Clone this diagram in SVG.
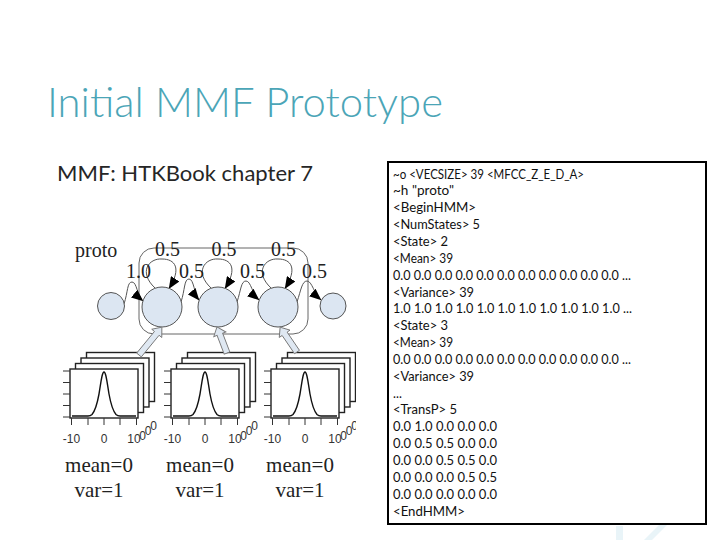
<svg xmlns="http://www.w3.org/2000/svg" width="720" height="540" viewBox="0 0 720 540">
<style>
.title{font-family:"Lato","Open Sans","Liberation Sans",sans-serif;font-weight:300;font-size:42px;fill:#4ba5b7}
.sub{font-family:"Lato","Open Sans","Liberation Sans",sans-serif;font-size:22px;fill:#262626}
.box{fill:#fff;stroke:#000;stroke-width:2}
.code{font-family:"Lato","Liberation Sans",sans-serif;font-size:12.5px;fill:#111}
.st{fill:#dce6f2;stroke:#555;stroke-width:1}
.tr{fill:none;stroke:#555;stroke-width:1;marker-end:url(#ah)}
.fr{fill:none;stroke:#666;stroke-width:1}
.ser{font-family:"Liberation Serif","Times New Roman",serif;font-size:20px;fill:#222}
.lab{font-family:"Liberation Serif","Times New Roman",serif;font-size:21px;fill:#222;text-anchor:middle}
.pl{fill:#fff;stroke:#222;stroke-width:1.4}
.tk{stroke:#333;stroke-width:1}
.g{fill:none;stroke:#111;stroke-width:1.4;stroke-linejoin:round}
.ax{font-family:"Liberation Sans",Arial,sans-serif;font-size:12px;fill:#333;text-anchor:middle}
.ha{fill:#dfe8f2;stroke:#777;stroke-width:0.9}
</style>
<defs>
<marker id="ah" markerUnits="userSpaceOnUse" markerWidth="12" markerHeight="10" refX="11.5" refY="5" orient="auto">
<path d="M0,0 L12,5 L0,10 z" fill="#000"/>
</marker>
<clipPath id="figclip"><rect x="55" y="225" width="301" height="300"/></clipPath>
<g id="stack">
<rect class="pl" x="16.5" y="-16.5" width="68" height="49"/>
<rect class="pl" x="11" y="-11" width="68" height="49"/>
<rect class="pl" x="5.5" y="-5.5" width="68" height="49"/>
<rect class="pl" x="0" y="0" width="68" height="49"/>
<path class="tk" d="M-7,2H0M-7,13.5H0M-7,25H0M-7,36.5H0M-7,48H0M1.5,49V56M18,49V56M34,49V56M50,49V56M66.5,49V56"/>
<path class="g" d="M2,47 L18,47 C20,47 21,46.5 22,45.5 C25,42 27,36 29,25 C31,13 32,3 34,3 C36,3 37,13 39,25 C41,36 43,42 46,45.5 C47,46.5 48,47 50,47 L66,47"/>
<text class="ax" x="1.5" y="74">-10</text>
<text class="ax" x="34" y="74">0</text>
<text class="ax" x="64" y="74">10</text>
<text class="ax" x="72.5" y="71">0</text>
<text class="ax" x="78" y="66">0</text>
<text class="ax" x="83.5" y="61">0</text>
</g>
</defs>
<rect width="720" height="540" fill="#fff"/>
<g id="watermark" fill="#e9f4f8">
<rect x="616" y="526" width="7" height="14"/>
<polygon points="660,524 668,524 652,540 644,540"/>
</g>
<text class="title" x="47" y="117" textLength="396" lengthAdjust="spacingAndGlyphs">Initial MMF Prototype</text>
<text class="sub" x="57" y="181" textLength="256" lengthAdjust="spacingAndGlyphs">MMF: HTKBook chapter 7</text>
<g id="code-box">
<rect class="box" x="388" y="162" width="318" height="362"/>
<g class="code">
<text x="393" y="178.5" textLength="191" lengthAdjust="spacingAndGlyphs">~o &lt;VECSIZE&gt; 39 &lt;MFCC_Z_E_D_A&gt;</text>
<text x="393" y="195.4" textLength="61" lengthAdjust="spacingAndGlyphs">~h "proto"</text>
<text x="393" y="212.2" textLength="83" lengthAdjust="spacingAndGlyphs">&lt;BeginHMM&gt;</text>
<text x="393" y="229.1" textLength="87" lengthAdjust="spacingAndGlyphs">&lt;NumStates&gt; 5</text>
<text x="393" y="245.9" textLength="55" lengthAdjust="spacingAndGlyphs">&lt;State&gt; 2</text>
<text x="393" y="262.8" textLength="60" lengthAdjust="spacingAndGlyphs">&lt;Mean&gt; 39</text>
<text x="393" y="279.6" textLength="238" lengthAdjust="spacingAndGlyphs">0.0 0.0 0.0 0.0 0.0 0.0 0.0 0.0 0.0 0.0 0.0 ...</text>
<text x="393" y="296.5" textLength="81" lengthAdjust="spacingAndGlyphs">&lt;Variance&gt; 39</text>
<text x="393" y="313.3" textLength="239" lengthAdjust="spacingAndGlyphs">1.0 1.0 1.0 1.0 1.0 1.0 1.0 1.0 1.0 1.0 1.0 ...</text>
<text x="393" y="330.2" textLength="55" lengthAdjust="spacingAndGlyphs">&lt;State&gt; 3</text>
<text x="393" y="347" textLength="60" lengthAdjust="spacingAndGlyphs">&lt;Mean&gt; 39</text>
<text x="393" y="363.9" textLength="238" lengthAdjust="spacingAndGlyphs">0.0 0.0 0.0 0.0 0.0 0.0 0.0 0.0 0.0 0.0 0.0 ...</text>
<text x="393" y="380.7" textLength="81" lengthAdjust="spacingAndGlyphs">&lt;Variance&gt; 39</text>
<text x="393" y="397.6">...</text>
<text x="393" y="414.4" textLength="64" lengthAdjust="spacingAndGlyphs">&lt;TransP&gt; 5</text>
<text x="393" y="431.3" textLength="104" lengthAdjust="spacingAndGlyphs">0.0 1.0 0.0 0.0 0.0</text>
<text x="393" y="448.1" textLength="104" lengthAdjust="spacingAndGlyphs">0.0 0.5 0.5 0.0 0.0</text>
<text x="393" y="465" textLength="104" lengthAdjust="spacingAndGlyphs">0.0 0.0 0.5 0.5 0.0</text>
<text x="393" y="481.8" textLength="104" lengthAdjust="spacingAndGlyphs">0.0 0.0 0.0 0.5 0.5</text>
<text x="393" y="498.7" textLength="104" lengthAdjust="spacingAndGlyphs">0.0 0.0 0.0 0.0 0.0</text>
<text x="393" y="515.5" textLength="72" lengthAdjust="spacingAndGlyphs">&lt;EndHMM&gt;</text>
</g>
</g>
<g id="figure" clip-path="url(#figclip)">
<g id="connectors">
<rect class="fr" x="139" y="248" width="169" height="86" rx="15"/>
<path class="tr" d="M124,304 C128,292 127,282 132,282 C137,282 137,296 143,301"/>
<path class="tr" d="M181,302 C185,290 184,279 189,279 C194,279 194,294 199,300"/>
<path class="tr" d="M237,302 C241,290 241,281 246,281 C251,281 252,294 259,300"/>
<path class="tr" d="M297,302 C301,290 302,281 307,281 C312,281 314,294 321,300"/>
<path class="tr" d="M155,288 C138,272 149,258 162,259 C175,259 182,268 169,288.5"/>
<path class="tr" d="M211,288 C194,272 205,258 218,259 C231,259 238,268 225,288.5"/>
<path class="tr" d="M271,288 C254,272 265,258 278,259 C291,259 298,268 285,288.5"/>
</g>
<g id="state1"><circle class="st" cx="111" cy="306" r="13.5"/></g>
<g id="state2"><circle class="st" cx="162" cy="307" r="20"/></g>
<g id="state3"><circle class="st" cx="218" cy="307" r="20"/></g>
<g id="state4"><circle class="st" cx="278" cy="307" r="20"/></g>
<g id="state5"><circle class="st" cx="333" cy="306" r="13"/></g>
<g id="labels">
<text class="ser" x="75" y="257">proto</text>
<text class="ser" x="167.5" y="256" text-anchor="middle">0.5</text>
<text class="ser" x="224" y="256" text-anchor="middle">0.5</text>
<text class="ser" x="283.5" y="256" text-anchor="middle">0.5</text>
<text class="ser" x="138.5" y="278" text-anchor="middle">1.0</text>
<text class="ser" x="191.5" y="278" text-anchor="middle">0.5</text>
<text class="ser" x="252.5" y="278" text-anchor="middle">0.5</text>
<text class="ser" x="314.5" y="278" text-anchor="middle">0.5</text>
</g>
<g id="stack1"><use href="#stack" transform="translate(70,369)"/></g>
<g id="stack2"><use href="#stack" transform="translate(171,369)"/></g>
<g id="stack3"><use href="#stack" transform="translate(271,369)"/></g>
<g id="obs-arrows">
<polygon class="ha" transform="translate(139,355) rotate(-50.6)" points="0,-3 28,-3 28,-6.5 36,0 28,6.5 28,3 0,3"/>
<polygon class="ha" transform="translate(227,353) rotate(-111)" points="0,-3 20,-3 20,-6.5 28,0 20,6.5 20,3 0,3"/>
<polygon class="ha" transform="translate(297,352) rotate(-124.2)" points="0,-3 22,-3 22,-6.5 30,0 22,6.5 22,3 0,3"/>
</g>
<g id="captions">
<text class="lab" x="99" y="472">mean=0</text>
<text class="lab" x="99" y="497">var=1</text>
<text class="lab" x="200" y="472">mean=0</text>
<text class="lab" x="200" y="497">var=1</text>
<text class="lab" x="300" y="472">mean=0</text>
<text class="lab" x="300" y="497">var=1</text>
</g>
</g>
</svg>
